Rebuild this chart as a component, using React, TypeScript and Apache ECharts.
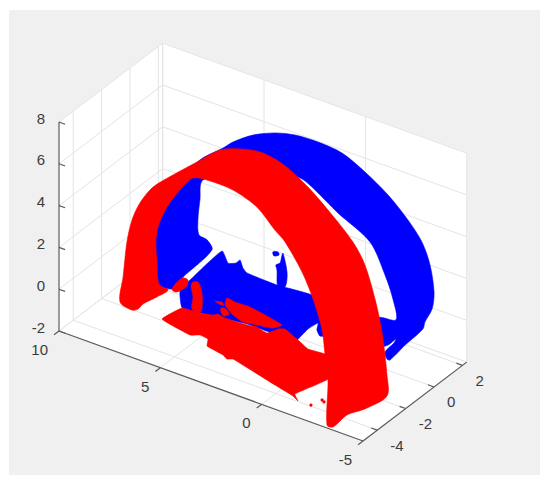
import React, { useEffect, useRef } from "react";
import * as echarts from "echarts";

type P3 = [number, number, number];

const xTicks = [10, 5, 0, -5];
const yTicks = [-4, -2, 0, 2];
const zTicks = [-2, 0, 2, 4, 6, 8];
const xLim = [-5, 10];
const yLim = [-5, 2.3];
const zLim = [-2, 8];

const blueArch: P3[] = [
  [5.41,0,5.78],[4.92,0,6.24],[3.93,0,6.92],[2.85,0,7.4],[1.86,0,7.65],[0.72,0,7.71],[-0.46,0,7.6],[-1.59,0,7.09],
  [-2.73,0,6.39],[-3.71,0,5.54],[-4.4,0,4.73],[-4.8,0,3.77],[-5,0,2.54],[-4.9,0,1.69],[-4.55,0,0.95],[-4.45,0,0.58],
  [-3.57,0,-0.5],[-2.83,0,-1.47],[-2.68,0,-1.48],[-2.58,0,-1.18],[-3.02,0,-0.59],[-3.12,0,-0.36],[-2.73,0,-0.79],
  [-2.33,0,-0.98],[-2.23,0,0.33],[-3.12,0,0.55],[-2.97,0,1.5],[-2.58,0,2.51],[-1.84,0,3.83],[-0.26,0,4.66],
  [1.02,0,5.45],[1.61,0,5.68],[4.08,0,5.44],[6.4,0,3.9],[6.55,0,2.89],[6.65,0,1.9],[6.6,0,1.21],[6.2,0,1.11],
  [5.96,0,0.71],[7.38,0,-1.08],[7.93,0,-1.85],[9.01,0,-1.8],[9.01,0,0.59],[8.03,0,2.86],[6.55,0,4.81],
];
const blueBase: P3[] = [
  [5.46,0,0.84],[5.16,0,0.36],[4.77,0,0.5],[4.57,0,0.72],[4.43,0,0.39],[4.23,0,0.22],[2.75,0,0.16],[1.02,0,0.29],
  [-0.11,0,-0.13],[0.14,0,-1.32],[0.63,0,-1.54],[0.78,0,-1.3],[0.72,0,-0.95],[1.22,0,-1.41],[1.61,0,-1.93],
  [0.46,-2,-0.72],[2.68,-2,-0.69],[5.15,-2,-0.98],[6.03,-2,-1.05],[7.53,0,-1.76],[7.04,0,-1.11],
];
const bluePost: P3[] = [
  [2.45,0,1.79],[2.25,0,0.91],[2.35,0,0.21],[2.7,0,0.08],[2.75,0,0.88],[2.8,0,1.1],[2.6,0,1.26],[2.5,0,1.68],
];
const blueSpot: P3[] = [[2.95,0,1.67],[2.7,0,1.76],[2.65,0,1.63],[2.9,0,1.5]];

const redFloor: P3[] = [
  [7.08,-1.91,-2],[6.9,-0.77,-2],[6.08,-0.67,-2],[5.55,-0.5,-2],[5.43,-0.33,-2],[5.02,-0.42,-2],[4.44,-0.4,-2],
  [3.98,-0.36,-2],[3.56,-0.26,-2],[2.96,-0.41,-2],[2.76,0.1,-2],[2.53,0.25,-2],[2.03,0.04,-2],[1.61,-0.14,-2],
  [0.88,-0.48,-2],[0.09,-0.41,-2],[-0.34,-0.67,-2],[-1.11,-1.91,-2],[-0.66,-3.6,-2],[-1.07,-3.97,-2],[-0.68,-3.77,-2],
  [0.4,-3.49,-2],[2.95,-2.81,-2],[3.15,-2.95,-2],[3.46,-2.78,-2],[4.39,-2.58,-2],[4.67,-2.12,-2],[5.11,-2.05,-2],[5.44,-2.28,-2],
];
const redIsland: P3[] = [
  [5.83,0.88,-2],[5.39,0.81,-2],[4.67,0.84,-2],[2.81,0.44,-2],[2.98,0.04,-2],[3.64,-0.13,-2],[4.24,-0.26,-2],[4.88,-0.05,-2],[5.59,0.4,-2],
];
const redFleck: P3[] = [[5.59,0.12,-2],[5.38,0.17,-2],[5.06,-0.08,-2],[5.14,-0.32,-2],[5.42,-0.13,-2]];
const redSliver: P3[] = [[6.1,0.42,-2],[5.82,0.52,-2],[5.58,0.31,-2],[5.84,0.33,-2]];
const redColumn: P3[] = [
  [4.79,-3,1.14],[4.54,-3,1.22],[4.35,-3,0.77],[4.4,-3,-0.16],[4.84,-3,-0.17],[4.79,-3,0.42],[4.89,-3,0.91],
];
const redStub: P3[] = [[5.83,-3,0.44],[5.33,-3,1.14],[5.04,-3,1.15],[5.14,-3,0.78],[5.63,-3,0.36]];
const redArch: P3[] = [
  [8.39,-3,-1.08],[8.24,-3,0.17],[8.05,-3,1.91],[7.8,-3,3.05],[7.41,-3,4],[6.76,-3,4.99],[5.78,-3,5.91],[4.59,-3,6.95],
  [3.46,-3,7.92],[2.47,-3,8.32],[1.49,-3,8.52],[0.75,-3,8.44],[0.1,-3,8.23],[-0.88,-3,7.67],[-1.87,-3,6.92],[-3.1,-3,5.82],
  [-3.69,-3,4.93],[-4.19,-3,3.47],[-4.53,-3,2.01],[-4.78,-3,0.04],[-4.78,-3,-0.96],[-3.69,-3,-1.96],[-4.21,-5,-1.03],
  [-3.52,-5,-1.85],[-3.22,-5,-1.86],[-1.87,-3,-1.17],[-1.72,-3,-0.02],[-1.57,-3,1.12],[-1.13,-3,2.4],[-0.59,-3,3.5],
  [0.25,-3,4.65],[0.75,-3,5.04],[1.64,-3,5.83],[2.82,-3,6.23],[4.1,-3,6.26],[4.79,-3,6.11],[5.43,-3,5.32],[6.07,-3,4.28],
  [6.52,-3,3.16],[6.62,-3,2.41],[6.57,-3,1.47],[6.47,-3,0.45],[6.02,-3,0.32],[6.57,-3,-0.2],[7.26,-3,-0.78],[7.5,-3,-1.11],[7.8,-3,-1.26],
];
const redSpecks: P3[] = [[-1.68,-3.93,-2],[-1.98,-3.44,-2],[-1.83,-3.36,-2]];

const BLUE = "#0000ff";
const RED = "#ff0000";
const AXIS = "#5a5a5a";
const GRID = "#e4e4e4";
const TEXT = "#3c3c3c";

const project = ([x, y, z]: P3): [number, number] => [
  59 + (10 - x) * 20.27 + (y + 5) * 14.2,
  331 + (10 - x) * 7.33 - (y + 5) * 10.8 - (z + 2) * 20.9,
];

const [xMin, xMax] = xLim;
const [yMin, yMax] = yLim;
const [zMin, zMax] = zLim;

const polygonSeries = (pts: P3[], fill: string, z: number, smooth = 0) => ({
  type: "custom",
  z,
  silent: true,
  clip: false,
  data: [[0, 0]],
  renderItem: (_: any, api: any) => ({
    type: "polygon",
    shape: { points: pts.map((p) => api.coord(project(p))), smooth },
    style: { fill, stroke: fill, lineWidth: 0.6 },
  }),
});

const linesSeries = (segs: [P3, P3][], stroke: string, lineWidth: number, z: number) => ({
  type: "custom",
  z,
  silent: true,
  clip: false,
  data: [[0, 0]],
  renderItem: (_: any, api: any) => ({
    type: "group",
    children: segs.map(([a, b]) => {
      const p = api.coord(project(a));
      const q = api.coord(project(b));
      return {
        type: "line",
        shape: { x1: p[0], y1: p[1], x2: q[0], y2: q[1] },
        style: { stroke, lineWidth },
      };
    }),
  }),
});

const labelSeries = (
  items: { p: P3; text: string }[],
  dx: number,
  dy: number,
  align: string,
) => ({
  type: "custom",
  z: 9,
  silent: true,
  clip: false,
  data: [[0, 0]],
  renderItem: (_: any, api: any) => ({
    type: "group",
    children: items.map(({ p, text }) => {
      const c = api.coord(project(p));
      return {
        type: "text",
        x: c[0] + dx,
        y: c[1] + dy,
        style: {
          text,
          fill: TEXT,
          font: '15px "Liberation Sans", Arial, sans-serif',
          textAlign: align,
          textVerticalAlign: "middle",
        },
      };
    }),
  }),
});

const gridSegs: [P3, P3][] = [
  ...zTicks.flatMap((z): [P3, P3][] => [
    [[xMax, yMin, z], [xMax, yMax, z]],
    [[xMax, yMax, z], [xMin, yMax, z]],
  ]),
  ...yTicks.flatMap((y): [P3, P3][] => [
    [[xMax, y, zMin], [xMax, y, zMax]],
    [[xMax, y, zMin], [xMin, y, zMin]],
  ]),
  ...xTicks.flatMap((x): [P3, P3][] => [
    [[x, yMax, zMin], [x, yMax, zMax]],
    [[x, yMax, zMin], [x, yMin, zMin]],
  ]),
  [[xMax, yMax, zMin], [xMax, yMax, zMax]],
];

const axisSegs: [P3, P3][] = [
  [[xMax, yMin, zMin], [xMax, yMin, zMax]],
  [[xMax, yMin, zMin], [xMin, yMin, zMin]],
  [[xMin, yMin, zMin], [xMin, yMax, zMin]],
  ...zTicks.map((z): [P3, P3] => [[xMax, yMin, z], [xMax - 0.3, yMin, z]]),
  ...xTicks.map((x): [P3, P3] => [[x, yMin, zMin], [x, yMin - 0.35, zMin]]),
  ...yTicks.map((y): [P3, P3] => [[xMin, y, zMin], [xMin + 0.3, y, zMin]]),
];

export default function App() {
  const ref = useRef<HTMLDivElement>(null);
  useEffect(() => {
    const chart = echarts.init(ref.current!, undefined, { renderer: "svg" });
    chart.setOption({
      animation: false,
      backgroundColor: "#ffffff",
      grid: { left: 0, right: 0, top: 0, bottom: 0 },
      xAxis: { type: "value", min: 0, max: 550, show: false },
      yAxis: { type: "value", min: 0, max: 485, inverse: true, show: false },
      graphic: [
        {
          type: "rect",
          z: -10,
          shape: { x: 9, y: 10, width: 531, height: 465 },
          style: { fill: "#f0f0f0" },
        },
      ],
      series: [
        polygonSeries([[xMax, yMin, zMin], [xMax, yMin, zMax], [xMax, yMax, zMax], [xMax, yMax, zMin]], "#ffffff", 1),
        polygonSeries([[xMax, yMax, zMin], [xMax, yMax, zMax], [xMin, yMax, zMax], [xMin, yMax, zMin]], "#ffffff", 1),
        polygonSeries([[xMax, yMin, zMin], [xMax, yMax, zMin], [xMin, yMax, zMin], [xMin, yMin, zMin]], "#ffffff", 1),
        linesSeries(gridSegs, GRID, 1, 2),
        polygonSeries(blueArch, BLUE, 3, 0.3),
        polygonSeries(blueBase, BLUE, 3, 0.15),
        polygonSeries(bluePost, BLUE, 3, 0.3),
        polygonSeries(blueSpot, BLUE, 3, 0.3),
        polygonSeries(redFloor, RED, 4, 0.1),
        polygonSeries(redIsland, RED, 4, 0.15),
        polygonSeries(redFleck, RED, 4, 0.3),
        polygonSeries(redSliver, RED, 4),
        polygonSeries(redColumn, RED, 4, 0.3),
        polygonSeries(redStub, RED, 4, 0.3),
        polygonSeries(redArch, RED, 5, 0.3),
        {
          type: "custom",
          z: 5,
          silent: true,
          clip: false,
          data: [[0, 0]],
          renderItem: (_: any, api: any) => ({
            type: "group",
            children: redSpecks.map((p) => {
              const c = api.coord(project(p));
              return { type: "circle", shape: { cx: c[0], cy: c[1], r: 1.6 }, style: { fill: RED } };
            }),
          }),
        },
        linesSeries(axisSegs, AXIS, 1.2, 8),
        labelSeries(zTicks.map((z) => ({ p: [xMax, yMin, z] as P3, text: String(z) })), -14, -4, "right"),
        labelSeries(xTicks.map((x) => ({ p: [x, yMin, zMin] as P3, text: String(x) })), -11, 18.5, "right"),
        labelSeries(yTicks.map((y) => ({ p: [xMin, y, zMin] as P3, text: String(y) })), 13, 15, "left"),
      ],
    });
    return () => chart.dispose();
  }, []);
  return <div ref={ref} style={{ position: "absolute", left: 0, top: 0, width: 550, height: 485 }} />;
}
